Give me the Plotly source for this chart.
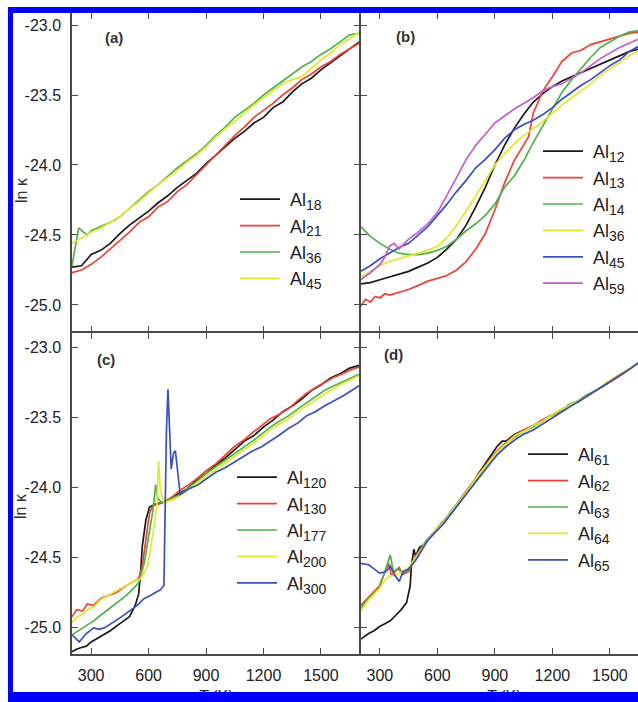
import plotly.graph_objects as go

W, H = 638, 702
FONT = "Arial, Liberation Sans, Helvetica, sans-serif"

# ---------------- data (T in K, ln kappa) ----------------
T_grid = [200, 250, 300, 350, 400, 450, 500, 550, 600, 650, 700, 750, 800, 850, 900, 950,
          1000, 1050, 1100, 1150, 1200, 1250, 1300, 1350, 1400, 1450, 1500, 1550, 1600, 1650, 1700]

# panel (a)
lnk_Al18 = [-24.73, -24.72, -24.64, -24.61, -24.56, -24.49, -24.43, -24.38, -24.33, -24.27, -24.22,
            -24.16, -24.11, -24.06, -23.99, -23.93, -23.87, -23.81, -23.76, -23.70, -23.66, -23.59,
            -23.55, -23.48, -23.42, -23.38, -23.32, -23.27, -23.22, -23.17, -23.12]
lnk_Al21 = [-24.77, -24.75, -24.71, -24.66, -24.60, -24.54, -24.48, -24.41, -24.37, -24.30, -24.26,
            -24.19, -24.14, -24.07, -24.00, -23.93, -23.86, -23.79, -23.73, -23.66, -23.61, -23.56,
            -23.50, -23.45, -23.39, -23.35, -23.30, -23.26, -23.21, -23.17, -23.13]
T_Al36a = [200, 212, 235, 260, 280, 300, 350, 400, 450, 500, 550, 600, 650, 700, 750, 800, 850, 900,
           950, 1000, 1050, 1100, 1150, 1200, 1250, 1300, 1350, 1400, 1450, 1500, 1550, 1600, 1650, 1700]
lnk_Al36a = [-24.72, -24.62, -24.45, -24.48, -24.50, -24.47, -24.44, -24.41, -24.37, -24.31, -24.25,
             -24.19, -24.14, -24.08, -24.02, -23.97, -23.92, -23.86, -23.79, -23.73, -23.66, -23.61,
             -23.56, -23.50, -23.45, -23.40, -23.35, -23.30, -23.26, -23.21, -23.17, -23.12, -23.07, -23.06]
lnk_Al45a = [-24.56, -24.52, -24.48, -24.45, -24.41, -24.37, -24.31, -24.26, -24.20, -24.14, -24.09,
             -24.04, -23.98, -23.93, -23.87, -23.80, -23.74, -23.69, -23.63, -23.57, -23.52, -23.47,
             -23.42, -23.39, -23.37, -23.31, -23.25, -23.20, -23.14, -23.10, -23.05]

# panel (b)
lnk_Al12 = [-24.85, -24.84, -24.82, -24.80, -24.78, -24.76, -24.73, -24.70, -24.66, -24.60, -24.53,
            -24.43, -24.30, -24.16, -24.00, -23.86, -23.74, -23.64, -23.55, -23.49, -23.44, -23.40,
            -23.37, -23.34, -23.31, -23.28, -23.25, -23.22, -23.19, -23.17, -23.15]
T_Al13 = [200, 225, 250, 275, 300, 325, 350, 400, 450, 500, 550, 600, 650, 700, 750, 800, 850, 900,
          950, 1000, 1050, 1075, 1100, 1150, 1200, 1250, 1300, 1350, 1400, 1450, 1500, 1550, 1600, 1650, 1700]
lnk_Al13 = [-25.01, -24.96, -24.98, -24.94, -24.95, -24.92, -24.93, -24.91, -24.89, -24.86, -24.83,
            -24.81, -24.79, -24.75, -24.69, -24.60, -24.49, -24.32, -24.13, -23.97, -23.85, -23.80,
            -23.63, -23.47, -23.37, -23.26, -23.20, -23.18, -23.14, -23.12, -23.10, -23.08, -23.06, -23.05, -23.04]
lnk_Al14 = [-24.44, -24.51, -24.56, -24.60, -24.63, -24.64, -24.64, -24.63, -24.61, -24.58, -24.53,
            -24.47, -24.42, -24.36, -24.28, -24.16, -24.08, -23.97, -23.84, -23.72, -23.61, -23.48,
            -23.39, -23.31, -23.23, -23.16, -23.12, -23.08, -23.05, -23.04, -23.03]
lnk_Al36b = [-24.80, -24.76, -24.72, -24.69, -24.67, -24.65, -24.63, -24.61, -24.58, -24.52, -24.43,
             -24.33, -24.22, -24.11, -24.00, -23.92, -23.85, -23.79, -23.74, -23.69, -23.63, -23.57,
             -23.52, -23.47, -23.42, -23.36, -23.31, -23.27, -23.22, -23.19, -23.16]
lnk_Al45b = [-24.76, -24.72, -24.67, -24.63, -24.59, -24.56, -24.50, -24.44, -24.36, -24.28, -24.19,
             -24.11, -24.02, -23.96, -23.89, -23.81, -23.75, -23.71, -23.68, -23.64, -23.59, -23.53,
             -23.48, -23.43, -23.39, -23.34, -23.29, -23.25, -23.19, -23.15, -23.12]
T_Al59 = [200, 250, 300, 325, 350, 375, 400, 450, 500, 550, 600, 650, 700, 750, 800, 850, 900, 950,
          1000, 1050, 1100, 1150, 1200, 1250, 1300, 1350, 1400, 1450, 1500, 1550, 1600, 1650, 1700]
lnk_Al59 = [-24.82, -24.77, -24.71, -24.66, -24.58, -24.56, -24.60, -24.53, -24.48, -24.42, -24.34,
            -24.22, -24.09, -23.96, -23.86, -23.78, -23.70, -23.65, -23.60, -23.56, -23.52, -23.47,
            -23.44, -23.42, -23.38, -23.34, -23.29, -23.24, -23.20, -23.16, -23.13, -23.10, -23.08]

# panel (c)
T_Al120 = [200, 225, 250, 275, 300, 325, 350, 375, 400, 450, 500, 530, 548, 558, 567, 586, 605, 633, 690,
           750, 800, 850, 900, 950, 1000, 1050, 1100, 1150, 1200, 1250, 1300, 1350, 1400, 1450, 1500,
           1550, 1600, 1650, 1700]
lnk_Al120 = [-25.17, -25.15, -25.14, -25.13, -25.10, -25.08, -25.06, -25.04, -25.02, -24.97, -24.92,
             -24.84, -24.76, -24.61, -24.42, -24.23, -24.14, -24.12, -24.10, -24.05, -24.01, -23.95,
             -23.90, -23.84, -23.79, -23.73, -23.67, -23.63, -23.57, -23.52, -23.46, -23.42, -23.37,
             -23.31, -23.27, -23.22, -23.19, -23.15, -23.13]
T_Al130 = [200, 225, 256, 280, 313, 350, 388, 430, 482, 520, 548, 567, 586, 605, 624, 671, 720, 765, 810,
           859, 900, 953, 1000, 1047, 1100, 1142, 1190, 1236, 1280, 1330, 1380, 1424, 1470, 1518, 1560,
           1612, 1660, 1706]
lnk_Al130 = [-24.92, -24.87, -24.88, -24.83, -24.84, -24.79, -24.77, -24.75, -24.70, -24.67, -24.65,
             -24.56, -24.37, -24.18, -24.13, -24.11, -24.07, -24.02, -23.98, -23.93, -23.88, -23.83,
             -23.77, -23.71, -23.66, -23.61, -23.56, -23.51, -23.48, -23.44, -23.38, -23.33, -23.29,
             -23.25, -23.22, -23.19, -23.16, -23.14]
T_Al177 = [200, 256, 313, 350, 388, 430, 482, 520, 548, 577, 605, 624, 637, 648, 671, 720, 765, 810, 859,
           900, 953, 1000, 1047, 1100, 1142, 1190, 1236, 1280, 1330, 1380, 1424, 1470, 1518, 1560, 1612,
           1660, 1706]
lnk_Al177 = [-25.05, -25.00, -24.95, -24.91, -24.87, -24.82, -24.77, -24.72, -24.68, -24.54, -24.32,
             -24.15, -23.98, -24.08, -24.11, -24.08, -24.05, -24.00, -23.95, -23.90, -23.85, -23.81,
             -23.76, -23.71, -23.67, -23.62, -23.57, -23.53, -23.49, -23.44, -23.40, -23.36, -23.31,
             -23.28, -23.25, -23.22, -23.19]
T_Al200 = [200, 230, 256, 285, 313, 350, 388, 430, 482, 520, 558, 595, 624, 643, 652, 661, 680, 720, 765,
           810, 859, 900, 953, 1000, 1047, 1100, 1142, 1190, 1236, 1280, 1330, 1380, 1424, 1470, 1518,
           1560, 1612, 1660, 1706]
lnk_Al200 = [-24.96, -24.92, -24.90, -24.87, -24.85, -24.80, -24.77, -24.74, -24.70, -24.67, -24.65,
             -24.56, -24.32, -24.13, -23.81, -24.01, -24.11, -24.09, -24.06, -24.01, -23.96, -23.92,
             -23.87, -23.83, -23.78, -23.73, -23.69, -23.64, -23.59, -23.55, -23.51, -23.46, -23.42,
             -23.38, -23.34, -23.30, -23.26, -23.23, -23.20]
T_Al300 = [200, 220, 238, 256, 275, 313, 340, 369, 400, 426, 460, 501, 540, 577, 610, 633, 660, 680, 686,
           693, 701, 708, 718, 725, 731, 740, 752, 765, 810, 859, 900, 953, 1000, 1047, 1100, 1142, 1190,
           1236, 1280, 1330, 1380, 1424, 1470, 1518, 1560, 1612, 1660, 1706]
lnk_Al300 = [-25.05, -25.08, -25.10, -25.07, -25.04, -25.00, -25.01, -25.00, -24.97, -24.95, -24.92,
             -24.88, -24.84, -24.79, -24.77, -24.75, -24.73, -24.70, -24.08, -23.61, -23.30, -23.58,
             -23.87, -23.80, -23.75, -23.74, -23.89, -24.05, -24.01, -23.98, -23.94, -23.89, -23.86,
             -23.82, -23.78, -23.74, -23.71, -23.67, -23.63, -23.58, -23.54, -23.49, -23.46, -23.42,
             -23.39, -23.35, -23.31, -23.27]

# panel (d)
T_Al61 = [200, 241, 270, 298, 326, 354, 383, 411, 439, 458, 464, 470, 477, 486, 496, 505, 514, 530, 543,
          580, 630, 675, 720, 769, 815, 863, 910, 938, 957, 1005, 1051, 1100, 1145, 1190, 1239, 1285,
          1334, 1380, 1428, 1475, 1522, 1570, 1610, 1650, 1700]
lnk_Al61 = [-25.08, -25.04, -25.02, -24.99, -24.97, -24.95, -24.91, -24.87, -24.82, -24.70, -24.56,
            -24.50, -24.44, -24.49, -24.46, -24.43, -24.42, -24.41, -24.38, -24.33, -24.26, -24.18,
            -24.10, -24.01, -23.90, -23.80, -23.71, -23.67, -23.67, -23.62, -23.59, -23.56, -23.53,
            -23.49, -23.46, -23.42, -23.39, -23.35, -23.31, -23.27, -23.23, -23.18, -23.15, -23.11, -23.08]
T_upper_d = [580, 630, 675, 720, 769, 815, 863, 910, 957, 1005, 1051, 1100, 1145, 1190, 1239, 1285,
             1334, 1380, 1428, 1475, 1522, 1570, 1610, 1650, 1700]
T_Al62 = [200, 241, 270, 298, 326, 345, 360, 380, 400, 420, 450, 486, 543] + T_upper_d
lnk_Al62 = [-24.84, -24.78, -24.74, -24.70, -24.60, -24.54, -24.63, -24.60, -24.57, -24.62, -24.60,
            -24.49, -24.38,
            -24.32, -24.24, -24.17, -24.08, -23.99, -23.91, -23.82, -23.74, -23.68, -23.63, -23.59,
            -23.56, -23.52, -23.49, -23.45, -23.42, -23.38, -23.35, -23.31, -23.27, -23.23, -23.19,
            -23.15, -23.11, -23.08]
T_Al63 = [200, 241, 270, 298, 326, 354, 370, 392, 420, 450, 486, 543] + T_upper_d
lnk_Al63 = [-24.86, -24.79, -24.75, -24.71, -24.60, -24.48, -24.60, -24.58, -24.61, -24.59, -24.50,
            -24.38,
            -24.33, -24.25, -24.16, -24.09, -24.00, -23.92, -23.83, -23.75, -23.69, -23.64, -23.60,
            -23.57, -23.53, -23.49, -23.46, -23.41, -23.38, -23.34, -23.31, -23.27, -23.22, -23.18,
            -23.15, -23.11, -23.08]
T_Al64 = [200, 241, 270, 298, 326, 354, 392, 420, 450, 486, 543] + T_upper_d
lnk_Al64 = [-24.88, -24.80, -24.76, -24.72, -24.66, -24.63, -24.62, -24.60, -24.57, -24.50, -24.39,
            -24.32, -24.25, -24.17, -24.09, -24.00, -23.91, -23.83, -23.75, -23.69, -23.63, -23.60,
            -23.56, -23.53, -23.49, -23.45, -23.42, -23.38, -23.35, -23.31, -23.26, -23.22, -23.18,
            -23.15, -23.11, -23.08]
T_Al65 = [200, 241, 270, 298, 330, 354, 375, 401, 420, 450, 486, 543] + T_upper_d
lnk_Al65 = [-24.54, -24.55, -24.58, -24.61, -24.60, -24.56, -24.62, -24.67, -24.60, -24.58, -24.52,
            -24.39,
            -24.33, -24.26, -24.18, -24.10, -24.01, -23.93, -23.85, -23.77, -23.71, -23.66, -23.62,
            -23.59, -23.55, -23.51, -23.47, -23.43, -23.39, -23.35, -23.31, -23.27, -23.23, -23.19,
            -23.15, -23.11, -23.08]

x_ticks = [300, 600, 900, 1200, 1500]
y_ticks = [-25.0, -24.5, -24.0, -23.5, -23.0]
y_ticktext = ["-25.0", "-24.5", "-24.0", "-23.5", "-23.0"]

BLACK, RED, GREEN, YELLOW, BLUE, MAGENTA = "#1a1a1a", "#ef4136", "#4fb248", "#e4e82a", "#3a4fc0", "#c45ccf"


def lab(n):
    return f"&nbsp;Al<sub><span style='font-size:14px'>{n}</span></sub>"


panels = [
    ("x", "y", "legend", [
        (lab(18), T_grid, lnk_Al18, BLACK),
        (lab(21), T_grid, lnk_Al21, RED),
        (lab(36), T_Al36a, lnk_Al36a, GREEN),
        (lab(45), T_grid, lnk_Al45a, YELLOW)]),
    ("x2", "y2", "legend2", [
        (lab(12), T_grid, lnk_Al12, BLACK),
        (lab(13), T_Al13, lnk_Al13, RED),
        (lab(14), T_grid, lnk_Al14, GREEN),
        (lab(36), T_grid, lnk_Al36b, YELLOW),
        (lab(45), T_grid, lnk_Al45b, BLUE),
        (lab(59), T_Al59, lnk_Al59, MAGENTA)]),
    ("x3", "y3", "legend3", [
        (lab(120), T_Al120, lnk_Al120, BLACK),
        (lab(130), T_Al130, lnk_Al130, RED),
        (lab(177), T_Al177, lnk_Al177, GREEN),
        (lab(200), T_Al200, lnk_Al200, YELLOW),
        (lab(300), T_Al300, lnk_Al300, BLUE)]),
    ("x4", "y4", "legend4", [
        (lab(61), T_Al61, lnk_Al61, BLACK),
        (lab(62), T_Al62, lnk_Al62, RED),
        (lab(63), T_Al63, lnk_Al63, GREEN),
        (lab(64), T_Al64, lnk_Al64, YELLOW),
        (lab(65), T_Al65, lnk_Al65, BLUE)]),
]

fig = go.Figure()
gid = 0
for xa, ya, lg, series in panels:
    for name, xs, ys, col in series:
        gid += 1
        fig.add_trace(go.Scatter(x=xs, y=ys, mode="lines", name=name, xaxis=xa, yaxis=ya,
                                 legend=lg, legendgroup=f"g{gid}",
                                 line=dict(color=col, width=1.7)))


def px_x(p):
    return p / W


def px_y(p):
    return 1 - p / H


AX = "#4a4a4a"
LW = 1.5
xbase = dict(showline=True, linecolor=AX, linewidth=LW, mirror="ticks", ticks="inside", ticklen=6,
             tickwidth=1.4, tickcolor=AX, showgrid=False, zeroline=False, tickvals=x_ticks,
             tickfont=dict(size=16, family=FONT, color="#222"), ticklabelstandoff=6)
ybase = dict(showline=True, linecolor=AX, linewidth=LW, ticks="inside", ticklen=6,
             tickwidth=1.4, tickcolor=AX, showgrid=False, zeroline=False, tickvals=y_ticks,
             ticktext=y_ticktext, tickfont=dict(size=16, family=FONT, color="#222"), ticklabelstandoff=6)

# axis lines sit half a line width outside their domain; offset so shared borders coincide
h = LW / 2
dom_left = [px_x(72), px_x(360 - h)]
dom_right = [px_x(360 + h), 1.0]
dom_top = [px_y(332 - h), px_y(13)]
dom_bot = [px_y(654), px_y(332 + h)]
xr_right = 200 + (638 - 360 - h) * 300 / 57.5

fig.update_layout(
    xaxis=dict(xbase, domain=dom_left, range=[200, 1700], anchor="y", showticklabels=False),
    xaxis2=dict(xbase, domain=dom_right, range=[200, xr_right], anchor="y2", showticklabels=False),
    xaxis3=dict(xbase, domain=dom_left, range=[200, 1700], anchor="y3", showticklabels=True),
    xaxis4=dict(xbase, domain=dom_right, range=[200, xr_right], anchor="y4", showticklabels=True),
    yaxis=dict(ybase, domain=dom_top, range=[-25.188, -22.914], anchor="x", mirror="ticks",
               showticklabels=True),
    yaxis2=dict(ybase, domain=dom_top, range=[-25.188, -22.914], anchor="x2", mirror=False,
                showticklabels=False),
    yaxis3=dict(ybase, domain=dom_bot, range=[-25.186, -22.898], anchor="x3", mirror="ticks",
                showticklabels=True),
    yaxis4=dict(ybase, domain=dom_bot, range=[-25.186, -22.898], anchor="x4", mirror=False,
                showticklabels=False),
)

legend_common = dict(xanchor="left", yanchor="top", bgcolor="rgba(0,0,0,0)", borderwidth=0,
                     font=dict(size=18, family=FONT, color="#222"), itemwidth=40, tracegroupgap=1,
                     traceorder="normal")
fig.update_layout(
    legend=dict(legend_common, x=px_x(235), y=px_y(181)),
    legend2=dict(legend_common, x=px_x(538), y=px_y(133)),
    legend3=dict(legend_common, x=px_x(232), y=px_y(459)),
    legend4=dict(legend_common, x=px_x(523), y=px_y(436)),
)

ann = []
for txt, x, y in [("(a)", 114, 38), ("(b)", 405, 36), ("(c)", 106, 360), ("(d)", 393, 354)]:
    ann.append(dict(text=f"<b>{txt}</b>", x=px_x(x), y=px_y(y), xref="paper", yref="paper",
                    showarrow=False, xanchor="center", yanchor="middle",
                    font=dict(size=15, family=FONT, color="#333")))
for y in [190, 506]:
    ann.append(dict(text="ln κ", x=px_x(21), y=px_y(y), xref="paper", yref="paper", textangle=-90,
                    showarrow=False, xanchor="center", yanchor="middle",
                    font=dict(size=16, family=FONT, color="#333")))
for x in [216, 504]:
    ann.append(dict(text="<i>T</i> (K)", x=px_x(x), y=px_y(686), xref="paper", yref="paper",
                    showarrow=False, xanchor="center", yanchor="top",
                    font=dict(size=16, family=FONT, color="#222")))
# bottom blue frame strip (drawn last so it overlaps the axis titles like the original)
ann.append(dict(text=" ", x=px_x(8), y=px_y(692), xref="paper", yref="paper", showarrow=False,
                xanchor="left", yanchor="top", width=650, height=12, bgcolor="#0000ff",
                borderpad=0, borderwidth=0, font=dict(size=1)))

shapes = [
    dict(type="rect", xref="paper", yref="paper", x0=px_x(8), x1=px_x(13), y0=px_y(702), y1=px_y(7),
         fillcolor="#0000ff", line=dict(width=0), layer="above"),
    dict(type="rect", xref="paper", yref="paper", x0=px_x(8), x1=px_x(660), y0=px_y(13), y1=px_y(7),
         fillcolor="#0000ff", line=dict(width=0), layer="above"),
]

fig.update_layout(width=W, height=H, margin=dict(l=0, r=0, t=0, b=0), paper_bgcolor="white",
                  plot_bgcolor="white", annotations=ann, shapes=shapes, showlegend=True,
                  font=dict(family=FONT))

fig.write_html("out.html")
